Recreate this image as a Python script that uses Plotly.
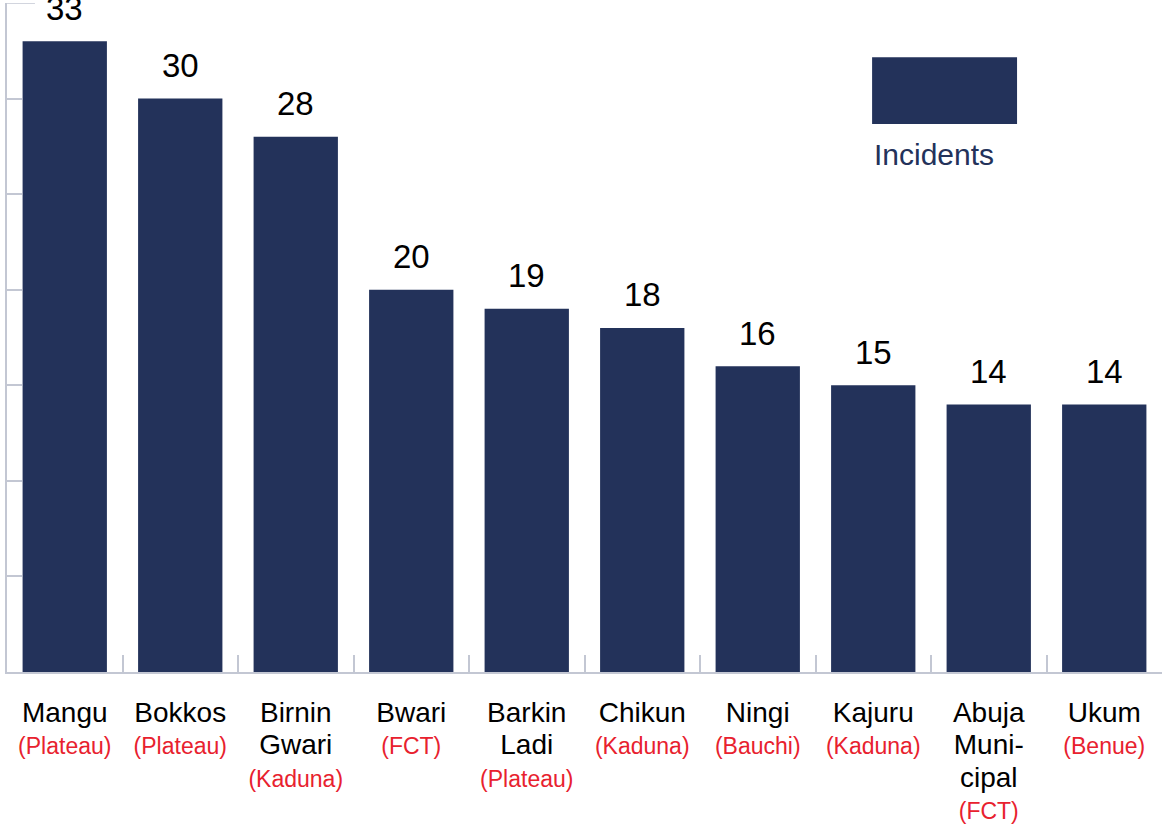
import plotly.graph_objects as go

lgas = ["Mangu", "Bokkos", "Birnin<br>Gwari", "Bwari", "Barkin<br>Ladi",
        "Chikun", "Ningi", "Kajuru", "Abuja<br>Muni-<br>cipal", "Ukum"]
states = ["Plateau", "Plateau", "Kaduna", "FCT", "Plateau",
          "Kaduna", "Bauchi", "Kaduna", "FCT", "Benue"]
incidents = [33, 30, 28, 20, 19, 18, 16, 15, 14, 14]

navy = "#23325a"
red = "#e8212e"
axis_col = "#c3c7d3"
font = "Liberation Sans, Arial, sans-serif"

cats = [n.replace("<br>", " ") for n in lgas]
ticktext = [f"<span style='font-size:28px'>{n}</span><br>"
            f"<span style='color:{red};font-size:23px'>({s})</span>"
            for n, s in zip(lgas, states)]

fig = go.Figure()
fig.add_trace(go.Bar(
    x=cats, y=incidents,
    marker=dict(color=navy, line=dict(width=0)),
    width=0.73, showlegend=False, hoverinfo="skip",
))

# value labels above the bars
for c, v in zip(cats, incidents):
    fig.add_annotation(x=c, y=v, text=str(v), showarrow=False,
                       yanchor="middle", yshift=33,
                       font=dict(size=33, color="black", family=font))

fig.update_layout(
    width=1164, height=832,
    margin=dict(l=7, r=2, t=3, b=160),
    plot_bgcolor="white", paper_bgcolor="white",
    font=dict(family=font),
    bargap=0.27,
)
fig.update_xaxes(
    type="category", tickmode="array", tickvals=cats, ticktext=ticktext,
    tickfont=dict(size=25, color="black", family=font),
    showline=True, linecolor=axis_col, linewidth=1.5,
    ticks="inside", ticklen=17, tickcolor=axis_col, tickwidth=1.5,
    tickson="boundaries", showgrid=False, zeroline=False,
    ticklabelstandoff=18, automargin=False,
)
fig.update_yaxes(
    range=[0, 35], tickvals=[0, 5, 10, 15, 20, 25, 30],
    showticklabels=False, showline=True, linecolor=axis_col, linewidth=1.5,
    ticks="inside", ticklen=15, tickcolor=axis_col, tickwidth=1.5,
    showgrid=False, zeroline=False, automargin=False,
)

# longer tick at the top of the y axis
fig.add_shape(type="line", xref="paper", yref="y",
              x0=0, x1=0.0242, y0=35, y1=35,
              line=dict(color=axis_col, width=1.5))

# legend swatch and label
fig.add_shape(type="rect", xref="paper", yref="paper",
              x0=0.749, x1=0.8745, y0=0.819, y1=0.919,
              fillcolor=navy, line=dict(width=0))
fig.add_annotation(xref="paper", yref="paper", x=0.749, y=0.774,
                   xanchor="left", yanchor="middle", showarrow=False,
                   text="Incidents", font=dict(size=30, color=navy, family=font))

fig.write_html("out.html", config={"displayModeBar": False},
               post_script="document.body.style.margin='0px';")
